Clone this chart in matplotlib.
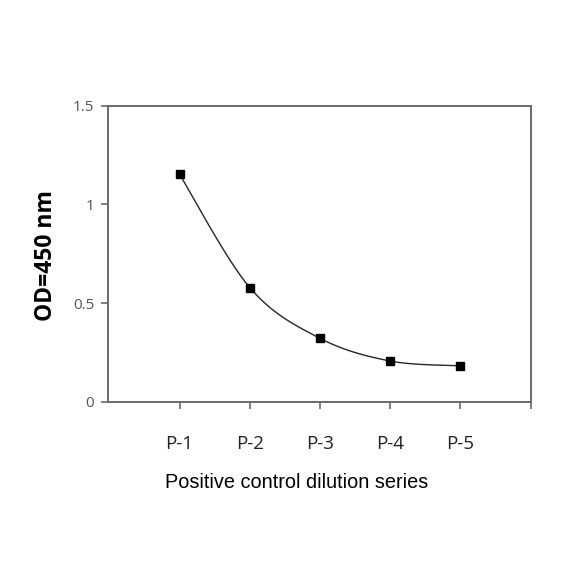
import numpy as np
import matplotlib
matplotlib.use("Agg")
import matplotlib.pyplot as plt

categories = ["P-1", "P-2", "P-3", "P-4", "P-5"]
od_values = [1.152, 0.578, 0.321, 0.206, 0.182]
y_ticks = [0, 0.5, 1, 1.5]
y_tick_labels = ["0", "0.5", "1", "1.5"]

W = H = 584
fig = plt.figure(figsize=(W / 100, H / 100), dpi=100)
L, R, T, B = 108, 530.7, 105.7, 401.7
ax = fig.add_axes([L / W, 1 - B / H, (R - L) / W, (B - T) / H])

x = np.arange(1, len(categories) + 1, dtype=float)
y = np.array(od_values, dtype=float)

# Excel-like smoothed line (Catmull-Rom / cubic Bezier, tension 1/6)
px = np.concatenate([[x[0]], x, [x[-1]]])
py = np.concatenate([[y[0]], y, [y[-1]]])
sx, sy = [], []
t = np.linspace(0, 1, 60)
for i in range(1, len(px) - 2):
    p0 = np.array([px[i], py[i]])
    p3 = np.array([px[i + 1], py[i + 1]])
    c1 = p0 + (np.array([px[i + 1], py[i + 1]]) - np.array([px[i - 1], py[i - 1]])) / 6
    c2 = p3 - (np.array([px[i + 2], py[i + 2]]) - np.array([px[i], py[i]])) / 6
    b = ((1 - t) ** 3)[:, None] * p0 + (3 * (1 - t) ** 2 * t)[:, None] * c1 \
        + (3 * (1 - t) * t ** 2)[:, None] * c2 + (t ** 3)[:, None] * p3
    sx.extend(b[:, 0]); sy.extend(b[:, 1])
ax.plot(sx, sy, color="#262626", lw=1.0, zorder=2)
ax.plot(x, y, ls="none", marker="s", ms=5.5, color="black", zorder=3)

ax.set_xlim(-0.02, 6.0)
ax.set_ylim(0, 1.5)
ax.set_yticks(y_ticks)
ax.set_yticklabels(y_tick_labels, fontsize=11, color="#555555", family="Open Sans")
ax.set_xticks(list(x) + [6.0])
ax.set_xticklabels(categories + [""], fontsize=13.5, color="#222222", family="Open Sans")
ax.tick_params(axis="x", direction="out", length=5, width=1.2, color="#6a6a6a", pad=19)
ax.tick_params(axis="y", direction="out", length=5, width=1.2, color="#6a6a6a", pad=5)
for s in ax.spines.values():
    s.set_color("#6a6a6a")
    s.set_linewidth(1.4)

fig.text(46 / W, 1 - 256 / H, "OD=450 nm", rotation=90, ha="center", va="center",
         fontsize=16.5, fontweight="bold", family="Open Sans", color="black")
fig.text(297 / W, 1 - 482 / H, "Positive control dilution series", ha="center", va="center",
         fontsize=14.3, family="Liberation Sans", color="black")

fig.savefig("out.png", dpi=100, facecolor="white")
